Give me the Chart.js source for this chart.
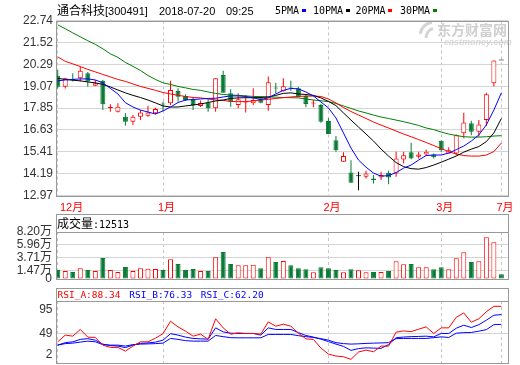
<!DOCTYPE html>
<html>
<head>
<meta charset="utf-8">
<title>通合科技 300491</title>
<script src="https://cdn.jsdelivr.net/npm/chart.js@4.4.1/dist/chart.umd.min.js"></script>
<style>
  html, body { margin: 0; padding: 0; background: #fff; }
  #wrap { position: relative; width: 520px; height: 365px; overflow: hidden; background: #fff; }
  canvas { position: absolute; left: 0; }
</style>
</head>
<body>
<div id="wrap">
  <canvas id="kline" width="520" height="214" style="top:0"></canvas>
  <canvas id="volume" width="520" height="81" style="top:210px"></canvas>
  <canvas id="rsi" width="520" height="80" style="top:285px"></canvas>
</div>
<script>
// quote header
const stockName = '通合科技';
const stockCode = '[300491]';
const quoteDate = '2018-07-20';
const quoteTime = '09:25';

// month boundaries (candle index) and their labels
const monthIdx = [0, 14, 36, 51, 59];
const monthLabels = ['12月', '1月', '2月', '3月', '7月'];

// daily candles
const opens = [19.66, 19.04, 19.48, 19.52, 19.80, 19.10, 19.37, 17.85, 17.65, 17.37,
  17.09, 17.37, 17.42, 17.56, 18.08, 18.12, 18.81, 18.53, 18.30, 17.97,
  18.15, 17.84, 19.70, 18.68, 18.02, 18.16, 18.12, 18.40, 18.02, 18.97,
  18.79, 18.97, 18.96, 18.53, 18.10, 18.02, 17.13, 16.06, 14.85, 14.26,
  14.05, 14.01, 13.92, 13.98, 14.23, 14.20, 14.98, 15.38, 15.13, 15.26,
  15.26, 16.03, 15.32, 15.32, 16.44, 17.00, 16.53, 17.18, 19.24, 20.50];
const highs = [19.98, 19.55, 19.80, 20.17, 19.87, 19.42, 19.42, 18.06, 18.12, 17.56,
  17.46, 17.74, 17.98, 17.87, 18.21, 19.37, 18.96, 18.62, 18.49, 18.27,
  18.34, 19.52, 19.93, 18.90, 18.68, 18.58, 18.96, 18.53, 19.61, 19.27,
  19.52, 19.38, 19.04, 18.58, 18.30, 18.08, 17.28, 16.29, 15.38, 14.94,
  14.29, 14.35, 14.11, 14.29, 14.35, 15.41, 15.41, 15.91, 15.41, 15.54,
  15.32, 16.06, 15.66, 16.38, 17.59, 17.14, 17.18, 18.71, 20.50, 20.50];
const lows = [18.95, 18.95, 19.33, 19.33, 19.04, 19.08, 17.74, 17.65, 17.61, 16.86,
  16.90, 17.18, 17.37, 17.50, 17.69, 18.02, 18.21, 18.25, 17.74, 17.91,
  17.65, 17.65, 18.71, 17.93, 17.84, 17.61, 18.02, 18.12, 17.70, 18.68,
  18.77, 18.82, 18.45, 17.89, 17.89, 17.03, 16.40, 15.41, 14.85, 13.68,
  13.27, 13.92, 13.64, 13.83, 13.60, 14.01, 14.76, 15.00, 15.04, 15.17,
  15.04, 15.41, 15.32, 15.22, 16.16, 16.34, 16.25, 16.85, 19.05, 20.50];
const closes = [19.04, 19.52, 19.39, 19.93, 19.33, 19.24, 18.06, 17.89, 17.93, 17.09,
  17.37, 17.61, 17.61, 17.80, 18.05, 18.86, 18.49, 18.30, 18.02, 18.14,
  17.84, 19.52, 18.71, 18.21, 18.34, 18.19, 18.30, 18.15, 19.29, 18.94,
  19.07, 18.94, 18.49, 18.08, 18.14, 17.09, 16.40, 15.50, 15.17, 13.68,
  14.05, 14.20, 13.83, 14.11, 13.98, 15.04, 15.22, 15.04, 15.26, 15.41,
  15.10, 15.50, 15.50, 16.34, 17.05, 16.53, 16.94, 18.62, 20.50, 20.50];

// moving averages as drawn
const ma5 = [19.37, 19.42, 19.45, 19.48, 19.48, 19.42, 19.26, 18.95, 18.64, 18.15,
  17.91, 17.74, 17.63, 17.52, 17.69, 17.91, 18.16, 18.30, 18.33, 18.36,
  18.39, 18.40, 18.47, 18.53, 18.53, 18.50, 18.42, 18.33, 18.42, 18.64,
  18.84, 18.95, 18.92, 18.75, 18.53, 18.19, 17.86, 17.30, 16.46, 15.62,
  14.95, 14.55, 14.22, 14.05, 14.08, 14.25, 14.50, 14.67, 14.95, 15.20,
  15.23, 15.23, 15.34, 15.53, 15.73, 16.01, 16.35, 16.91, 17.74, 18.70];
const ma10 = [19.51, 19.45, 19.41, 19.37, 19.31, 19.26, 19.17, 19.03, 18.86, 18.70,
  18.56, 18.44, 18.30, 18.14, 17.97, 17.91, 17.91, 17.97, 18.02, 18.08,
  18.16, 18.25, 18.30, 18.39, 18.42, 18.43, 18.43, 18.44, 18.47, 18.56,
  18.67, 18.70, 18.64, 18.61, 18.56, 18.42, 18.22, 17.99, 17.58, 17.18,
  16.79, 16.40, 16.01, 15.56, 15.17, 14.81, 14.58, 14.47, 14.44, 14.53,
  14.67, 14.83, 15.00, 15.17, 15.39, 15.56, 15.70, 15.98, 16.46, 17.27];
const ma20 = [20.71, 20.46, 20.32, 20.17, 20.01, 19.87, 19.73, 19.59, 19.45, 19.34,
  19.20, 19.06, 18.95, 18.84, 18.72, 18.64, 18.56, 18.50, 18.44, 18.42,
  18.36, 18.30, 18.28, 18.22, 18.21, 18.21, 18.25, 18.30, 18.34, 18.39,
  18.43, 18.47, 18.50, 18.52, 18.52, 18.50, 18.36, 18.14, 17.88, 17.66,
  17.46, 17.27, 17.07, 16.90, 16.74, 16.57, 16.40, 16.25, 16.09, 15.93,
  15.76, 15.59, 15.42, 15.28, 15.20, 15.17, 15.17, 15.23, 15.42, 15.90];
const ma30 = [22.50, 22.28, 22.05, 21.83, 21.61, 21.41, 21.16, 20.88, 20.68, 20.40,
  20.18, 19.95, 19.67, 19.45, 19.26, 19.17, 19.06, 18.98, 18.89, 18.84,
  18.75, 18.67, 18.61, 18.58, 18.56, 18.53, 18.50, 18.49, 18.47, 18.46,
  18.44, 18.43, 18.42, 18.36, 18.30, 18.26, 18.21, 18.11, 17.97, 17.83,
  17.69, 17.58, 17.46, 17.35, 17.27, 17.18, 17.09, 16.99, 16.88, 16.74,
  16.65, 16.51, 16.40, 16.32, 16.25, 16.23, 16.23, 16.25, 16.29, 16.31];

// volume, in 万
const volumes = [1.57, 1.40, 1.22, 1.86, 1.57, 1.40, 3.66, 1.57, 1.22, 2.09,
  1.40, 1.86, 1.80, 1.75, 1.57, 3.43, 2.62, 1.57, 1.75, 1.40,
  1.40, 3.78, 4.71, 2.62, 2.38, 2.38, 2.50, 1.86, 3.78, 2.97,
  3.14, 2.38, 1.86, 1.69, 1.16, 2.04, 1.86, 1.57, 1.16, 1.69,
  1.51, 1.16, 1.22, 1.22, 1.40, 3.08, 2.56, 2.62, 2.04, 2.04,
  1.69, 2.04, 1.69, 3.61, 4.65, 2.97, 3.08, 7.28, 6.40, 0.85];
const lastVolume = 12513;

// RSI 6 / 12 / 24
const rsiA = [36.9, 46.6, 45.1, 54.8, 43.7, 43.2, 32.1, 28.8, 28.8, 23.5,
  30.7, 36.9, 36.9, 42.2, 48.7, 66.7, 58.5, 52.3, 45.1, 48.0,
  40.4, 70.3, 57.1, 48.0, 49.9, 49.0, 49.0, 48.0, 65.7, 59.5,
  62.4, 59.5, 49.4, 41.2, 40.4, 27.8, 19.2, 16.3, 15.3, 11.5,
  22.1, 24.9, 22.5, 30.7, 30.7, 50.9, 52.7, 51.6, 55.2, 58.5,
  49.0, 57.1, 57.1, 72.5, 78.7, 65.3, 70.3, 80.4, 88.3, 88.34];
const rsiB = [32.1, 35.7, 36.9, 40.4, 41.5, 39.3, 33.6, 31.4, 30.7, 28.5,
  32.1, 34.6, 35.3, 36.5, 39.3, 48.7, 46.6, 43.7, 41.8, 41.2,
  40.8, 57.1, 51.3, 49.4, 49.0, 49.0, 49.0, 46.6, 57.1, 54.8,
  54.8, 54.8, 50.2, 46.1, 43.7, 40.8, 37.2, 33.6, 30.3, 24.5,
  27.1, 28.2, 27.8, 27.4, 32.9, 42.9, 43.8, 44.4, 44.7, 45.1,
  44.1, 49.0, 49.0, 56.6, 61.0, 57.6, 61.7, 68.2, 75.4, 76.33];
const rsiC = [32.1, 34.3, 35.0, 36.5, 37.9, 36.9, 32.9, 32.1, 32.1, 30.7,
  32.9, 33.6, 33.9, 34.3, 35.0, 41.8, 40.4, 38.6, 37.9, 37.9,
  37.9, 46.1, 44.4, 42.9, 42.7, 42.7, 42.7, 42.7, 47.6, 47.6,
  47.6, 47.6, 45.8, 44.4, 43.2, 41.5, 39.3, 35.7, 34.3, 33.6,
  34.0, 34.6, 35.0, 35.3, 35.7, 41.5, 41.8, 41.8, 41.8, 41.8,
  42.9, 44.1, 43.2, 49.4, 50.2, 50.4, 52.3, 54.5, 61.7, 62.20];
const rsiLast = ['88.34', '76.33', '62.20'];

// axis ticks
const priceTicks = [22.74, 21.52, 20.29, 19.07, 17.85, 16.63, 15.41, 14.19, 12.97];
const volTicks = [8.20, 5.96, 3.71, 1.47, 0];
const rsiTicks = [95, 49, 2];

const RED = '#ff0000';
const GREEN = '#0a7a35';
const BLUE = '#0000ff';
const MA_GREEN = '#008000';
const FRAME = '#999999';
const GRID = '#d4d4d4';
const DASH = '#c4c4c4';
const AXIS_TEXT = '#333333';
const SANS = '"Liberation Sans", Arial, "Noto Sans CJK SC", sans-serif';
const MONO = '"DejaVu Sans Mono", "Liberation Mono", monospace';
const CJK = '"Noto Sans CJK SC", sans-serif';

Chart.defaults.font.family = SANS;

function candleColor(i) {
  if (closes[i] > opens[i]) return RED;
  if (closes[i] < opens[i]) return GREEN;
  return '#000000';
}
function volumeColor(i) {
  if (closes[i] !== opens[i]) return closes[i] > opens[i] ? RED : GREEN;
  return i > 0 && closes[i] > closes[i - 1] ? RED : GREEN;
}
function series(values) {
  return values.map((v, i) => ({ x: i, y: v }));
}

function timeAxis() {
  return {
    type: 'linear', min: -0.23, max: 59.88, bounds: 'data', offset: false,
    ticks: { display: false },
    grid: { color: DASH, drawTicks: false, offset: false },
    border: { display: false, dash: [3, 3] },
    afterBuildTicks: s => { s.ticks = monthIdx.map(v => ({ value: v })); },
    afterFit: s => { s.height = 0; }
  };
}

function baseOptions(padding) {
  return {
    responsive: false, animation: false, devicePixelRatio: 1, events: [],
    layout: { padding },
    plugins: { legend: { display: false }, tooltip: { enabled: false } }
  };
}

function frameLines(ctx, left, top, right, bottom) {
  ctx.strokeStyle = FRAME;
  ctx.lineWidth = 1;
  ctx.strokeRect(Math.round(left) + 0.5, Math.round(top) + 0.5,
    Math.round(right) - Math.round(left), Math.round(bottom) - Math.round(top));
}

function hLine(ctx, left, right, y) {
  ctx.beginPath();
  ctx.moveTo(Math.round(left), Math.round(y) + 0.5);
  ctx.lineTo(Math.round(right) + 1, Math.round(y) + 0.5);
  ctx.stroke();
}

// --- candles + moving averages ---
const klineDecor = {
  id: 'klineDecor',
  beforeDraw(chart) {
    const { ctx } = chart;
    ctx.save();
    ctx.fillStyle = '#d0d0d0';
    ctx.font = 'bold 14px ' + CJK;
    ctx.textBaseline = 'alphabetic';
    ctx.fillText('东方财富网', 437, 35);
    ctx.font = 'italic bold 9px ' + SANS;
    ctx.fillStyle = '#d8d8d8';
    ctx.fillText('eastmoney.com', 444, 45);
    ctx.strokeStyle = '#d4d4d4';
    ctx.lineWidth = 3;
    ctx.beginPath();
    ctx.arc(434, 36, 14, Math.PI * 1.05, Math.PI * 1.45);
    ctx.stroke();
    ctx.beginPath();
    ctx.arc(436, 38, 10, Math.PI * 1.0, Math.PI * 1.4);
    ctx.stroke();
    ctx.restore();
  },
  afterDraw(chart) {
    const { ctx, chartArea: a, scales: { x } } = chart;
    ctx.save();
    frameLines(ctx, a.left, a.top, a.right, a.bottom);

    ctx.textBaseline = 'alphabetic';
    ctx.textAlign = 'left';
    ctx.fillStyle = '#000';
    ctx.font = '12px ' + CJK;
    ctx.fillText(stockName, 57, 15);
    ctx.font = '11px ' + SANS;
    ctx.fillText(stockCode, 105, 15);
    ctx.fillText(quoteDate, 159, 15);
    ctx.fillText(quoteTime, 226, 15);

    const legend = [['5PMA', BLUE, 275], ['10PMA', '#000', 313], ['20PMA', RED, 355.5], ['30PMA', MA_GREEN, 400]];
    ctx.font = '10px ' + MONO;
    legend.forEach(([label, color, lx]) => {
      ctx.fillStyle = '#000';
      ctx.fillText(label, lx, 13.5);
      const w = ctx.measureText(label).width;
      ctx.fillStyle = color;
      ctx.fillRect(Math.round(lx + w + 2.5), 9, 4, 3);
    });

    ctx.fillStyle = RED;
    ctx.font = '11px ' + SANS;
    monthIdx.forEach((v, k) => {
      const px = Math.max(x.getPixelForValue(v) - 5, a.left + 4);
      ctx.fillText(monthLabels[k], px, 210.5);
    });
    ctx.restore();
  }
};

new Chart(document.getElementById('kline'), {
  type: 'bar',
  data: {
    datasets: [
      { type: 'line', data: series(ma5), borderColor: BLUE, borderWidth: 1, pointRadius: 0, tension: 0, order: 0 },
      { type: 'line', data: series(ma10), borderColor: '#000000', borderWidth: 1, pointRadius: 0, tension: 0, order: 1 },
      { type: 'line', data: series(ma20), borderColor: RED, borderWidth: 1, pointRadius: 0, tension: 0, order: 2 },
      { type: 'line', data: series(ma30), borderColor: MA_GREEN, borderWidth: 1, pointRadius: 0, tension: 0, order: 3 },
      {
        data: opens.map((o, i) => ({ x: i, y: [o, closes[i]] })),
        barThickness: 5, grouped: false, minBarLength: 1, inflateAmount: 0,
        backgroundColor: opens.map((o, i) => closes[i] > o ? '#ffffff' : candleColor(i)),
        borderColor: opens.map((o, i) => candleColor(i)),
        borderWidth: 1, borderSkipped: false, order: 4
      },
      {
        data: lows.map((l, i) => ({ x: i, y: [l, highs[i]] })),
        barThickness: 1, grouped: false, inflateAmount: 0,
        backgroundColor: lows.map((l, i) => candleColor(i)),
        borderWidth: 0, order: 5
      }
    ]
  },
  options: Object.assign(baseOptions({ top: 20.5, right: 12, bottom: 18.5, left: 0 }), {
    scales: {
      x: timeAxis(),
      y: {
        type: 'linear', min: 12.97, max: 22.74, bounds: 'data', beginAtZero: false,
        afterBuildTicks: s => { s.ticks = priceTicks.map(v => ({ value: v })); },
        afterFit: s => { s.width = 56; },
        ticks: { autoSkip: false, padding: 3, color: AXIS_TEXT, font: { size: 12 },
          callback: (v, i) => priceTicks[i].toFixed(2) },
        grid: { color: GRID, drawTicks: false },
        border: { display: false }
      }
    }
  }),
  plugins: [klineDecor]
});

// --- volume ---
const volumeDecor = {
  id: 'volumeDecor',
  afterDraw(chart) {
    const { ctx, chartArea: a } = chart;
    ctx.save();
    frameLines(ctx, a.left, 4, a.right, a.bottom);
    hLine(ctx, a.left, a.right, a.top);
    ctx.fillStyle = '#000';
    ctx.textBaseline = 'alphabetic';
    ctx.font = '12px ' + CJK;
    ctx.fillText('成交量', 57, 18);
    ctx.font = '10px ' + MONO;
    ctx.fillText(':' + lastVolume, 93, 18);
    ctx.restore();
  }
};

new Chart(document.getElementById('volume'), {
  type: 'bar',
  data: {
    datasets: [{
      data: series(volumes),
      barThickness: 5, grouped: false, inflateAmount: 0,
      backgroundColor: volumes.map((v, i) => volumeColor(i) === RED ? '#ffffff' : GREEN),
      borderColor: volumes.map((v, i) => volumeColor(i)),
      borderWidth: 1, borderSkipped: false
    }]
  },
  options: Object.assign(baseOptions({ top: 22, right: 12, bottom: 12, left: 0 }), {
    scales: {
      x: timeAxis(),
      y: {
        type: 'linear', min: 0, max: 8.2, bounds: 'data',
        afterBuildTicks: s => { s.ticks = volTicks.map(v => ({ value: v })); },
        afterFit: s => { s.width = 56; },
        ticks: { autoSkip: false, padding: 4, color: AXIS_TEXT, font: { size: 12 },
          callback: (v, i) => volTicks[i] > 0 ? volTicks[i].toFixed(2) + '万' : '0' },
        grid: { color: GRID, drawTicks: false },
        border: { display: false }
      }
    }
  }),
  plugins: [volumeDecor]
});

// --- RSI ---
const rsiDecor = {
  id: 'rsiDecor',
  afterDraw(chart) {
    const { ctx, chartArea: a, scales: { y } } = chart;
    ctx.save();
    frameLines(ctx, a.left, 3, a.right, a.bottom);
    hLine(ctx, a.left, a.right, a.top);
    ctx.textBaseline = 'alphabetic';
    ctx.font = '9.5px ' + MONO;
    ctx.fillStyle = RED;
    ctx.fillText('RSI_A:' + rsiLast[0], 57.5, 12.5);
    ctx.fillStyle = BLUE;
    ctx.fillText('RSI_B:' + rsiLast[1], 129.3, 12.5);
    ctx.fillText('RSI_C:' + rsiLast[2], 200.7, 12.5);

    ctx.fillStyle = AXIS_TEXT;
    ctx.font = '12px ' + SANS;
    ctx.textAlign = 'right';
    ctx.textBaseline = 'middle';
    rsiTicks.forEach(v => {
      const py = Math.min(Math.max(y.getPixelForValue(v), a.top + 8.5), a.bottom - 8.5);
      ctx.fillText(String(v), 52.5, py);
    });
    ctx.restore();
  }
};

new Chart(document.getElementById('rsi'), {
  type: 'line',
  data: {
    datasets: [
      { data: series(rsiA), borderColor: RED, borderWidth: 1, pointRadius: 0, tension: 0 },
      { data: series(rsiB), borderColor: BLUE, borderWidth: 1, pointRadius: 0, tension: 0 },
      { data: series(rsiC), borderColor: BLUE, borderWidth: 1, pointRadius: 0, tension: 0 }
    ]
  },
  options: Object.assign(baseOptions({ top: 16, right: 12, bottom: 1.7, left: 0 }), {
    scales: {
      x: timeAxis(),
      y: {
        type: 'linear', min: 5.8, max: 96, bounds: 'data',
        afterBuildTicks: s => { s.ticks = [{ value: rsiTicks[1] }]; },
        afterFit: s => { s.width = 56; },
        ticks: { display: false },
        grid: { color: GRID, drawTicks: false },
        border: { display: false }
      }
    }
  }),
  plugins: [rsiDecor]
});
</script>
</body>
</html>
